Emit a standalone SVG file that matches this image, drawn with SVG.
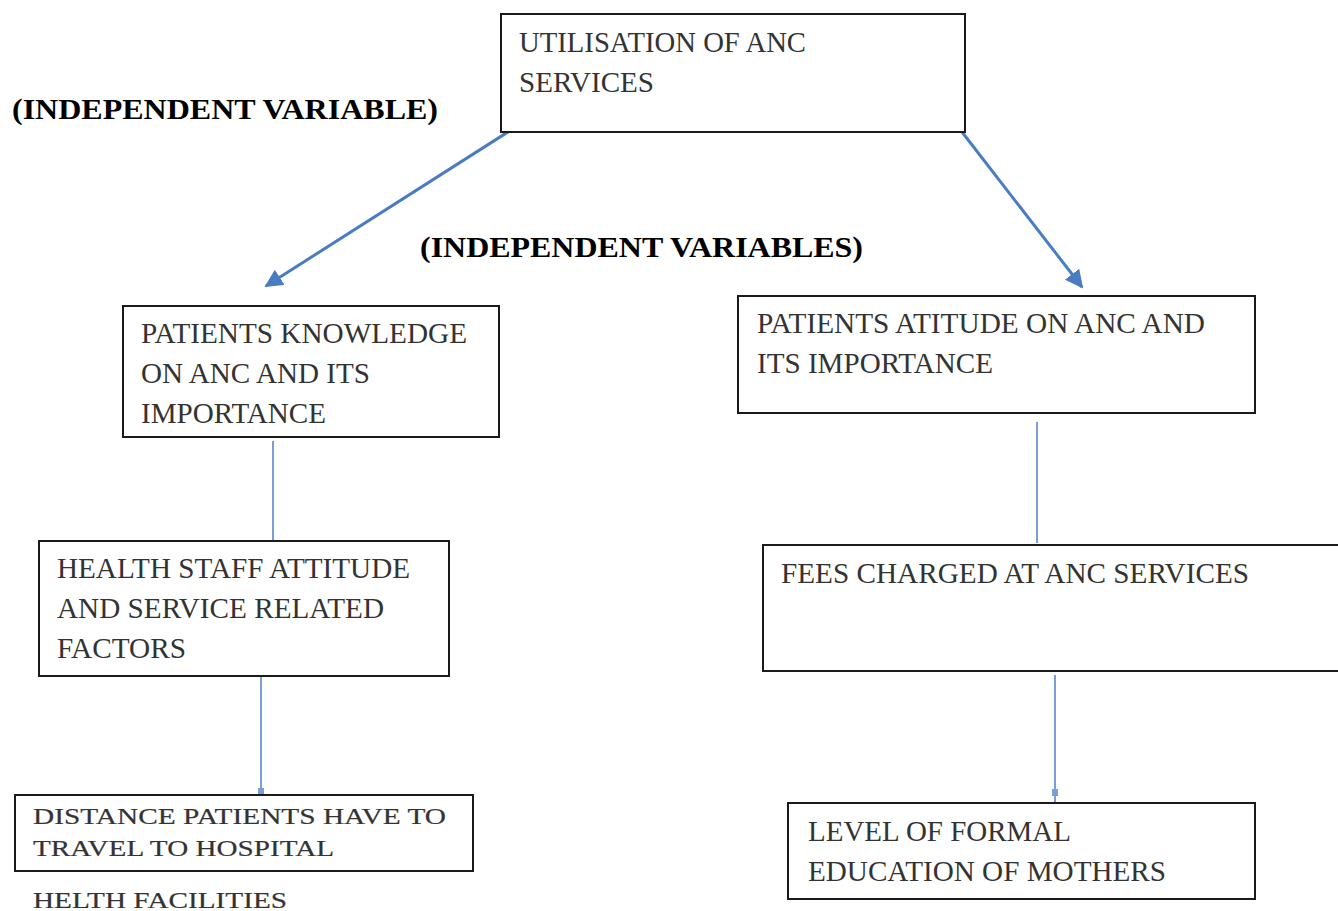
<svg xmlns="http://www.w3.org/2000/svg" width="1338" height="911" viewBox="0 0 1338 911">
<defs>
<style>
.box{fill:#fff;stroke:#1a1a1a;stroke-width:2}
.t{font-family:"Liberation Serif","Times New Roman",serif;font-size:29px;fill:#333}
.s{font-family:"Liberation Serif","Times New Roman",serif;font-size:24px;fill:#333;stroke:#333;stroke-width:0.2}
.b{font-family:"Liberation Serif","Times New Roman",serif;font-size:30px;font-weight:bold;fill:#000}
.arr{stroke:#4a7cc4;stroke-width:3;fill:none}
.thin{stroke:#7a9fd6;stroke-width:2;fill:none}
</style>
<marker id="ah" viewBox="0 0 10 10" refX="9" refY="5" markerWidth="6" markerHeight="6" orient="auto" markerUnits="strokeWidth">
<path d="M0,0 L10,5 L0,10 z" fill="#4a7cc4"/>
</marker>
</defs>
<rect width="1338" height="911" fill="#fff"/>
<g id="connectors">
<line class="arr" x1="511" y1="130" x2="266" y2="286" marker-end="url(#ah)"/>
<line class="arr" x1="962" y1="132" x2="1082" y2="287" marker-end="url(#ah)"/>
<line class="thin" x1="273" y1="441" x2="273" y2="540"/>
<line class="thin" x1="261" y1="668" x2="261" y2="795"/>
<rect x="258" y="788" width="6" height="6" fill="#7a9fd6"/>
<line class="thin" x1="1037" y1="422" x2="1037" y2="543"/>
<line class="thin" x1="1055" y1="675" x2="1055" y2="802"/>
<rect x="1052" y="789" width="6" height="7" fill="#7a9fd6"/>
</g>
<g id="label-iv">
<text class="b" x="12" y="119" textLength="426" lengthAdjust="spacingAndGlyphs">(INDEPENDENT VARIABLE)</text>
</g>
<g id="label-ivs">
<text class="b" x="420" y="257" textLength="443" lengthAdjust="spacingAndGlyphs">(INDEPENDENT VARIABLES)</text>
</g>
<g id="node-utilisation">
<rect class="box" x="501" y="14" width="464" height="118"/>
<text class="t" x="519" y="52" textLength="287" lengthAdjust="spacingAndGlyphs">UTILISATION OF ANC</text>
<text class="t" x="519" y="92" textLength="135" lengthAdjust="spacingAndGlyphs">SERVICES</text>
</g>
<g id="node-knowledge">
<rect class="box" x="123" y="306" width="376" height="131"/>
<text class="t" x="141" y="343" textLength="326" lengthAdjust="spacingAndGlyphs">PATIENTS KNOWLEDGE</text>
<text class="t" x="141" y="383" textLength="229" lengthAdjust="spacingAndGlyphs">ON ANC AND ITS</text>
<text class="t" x="141" y="423" textLength="185" lengthAdjust="spacingAndGlyphs">IMPORTANCE</text>
</g>
<g id="node-attitude">
<rect class="box" x="738" y="296" width="517" height="117"/>
<text class="t" x="757" y="333" textLength="448" lengthAdjust="spacingAndGlyphs">PATIENTS ATITUDE ON ANC AND</text>
<text class="t" x="757" y="373" textLength="236" lengthAdjust="spacingAndGlyphs">ITS IMPORTANCE</text>
</g>
<g id="node-staff">
<rect class="box" x="39" y="541" width="410" height="135"/>
<text class="t" x="57" y="578" textLength="353" lengthAdjust="spacingAndGlyphs">HEALTH STAFF ATTITUDE</text>
<text class="t" x="57" y="618" textLength="327" lengthAdjust="spacingAndGlyphs">AND SERVICE RELATED</text>
<text class="t" x="57" y="658" textLength="129" lengthAdjust="spacingAndGlyphs">FACTORS</text>
</g>
<g id="node-fees">
<rect class="box" x="763" y="545" width="580" height="126"/>
<text class="t" x="781" y="583" textLength="468" lengthAdjust="spacingAndGlyphs">FEES CHARGED AT ANC SERVICES</text>
</g>
<g id="node-distance">
<rect class="box" x="15" y="795" width="458" height="76"/>
<text class="s" x="33" y="824" textLength="413" lengthAdjust="spacingAndGlyphs">DISTANCE PATIENTS HAVE TO</text>
<text class="s" x="33" y="856" textLength="301" lengthAdjust="spacingAndGlyphs">TRAVEL TO HOSPITAL</text>
<text class="s" x="33" y="908" textLength="254" lengthAdjust="spacingAndGlyphs">HELTH FACILITIES</text>
</g>
<g id="node-education">
<rect class="box" x="788" y="803" width="467" height="96"/>
<text class="t" x="808" y="841" textLength="263" lengthAdjust="spacingAndGlyphs">LEVEL OF FORMAL</text>
<text class="t" x="808" y="881" textLength="358" lengthAdjust="spacingAndGlyphs">EDUCATION OF MOTHERS</text>
</g>
</svg>
